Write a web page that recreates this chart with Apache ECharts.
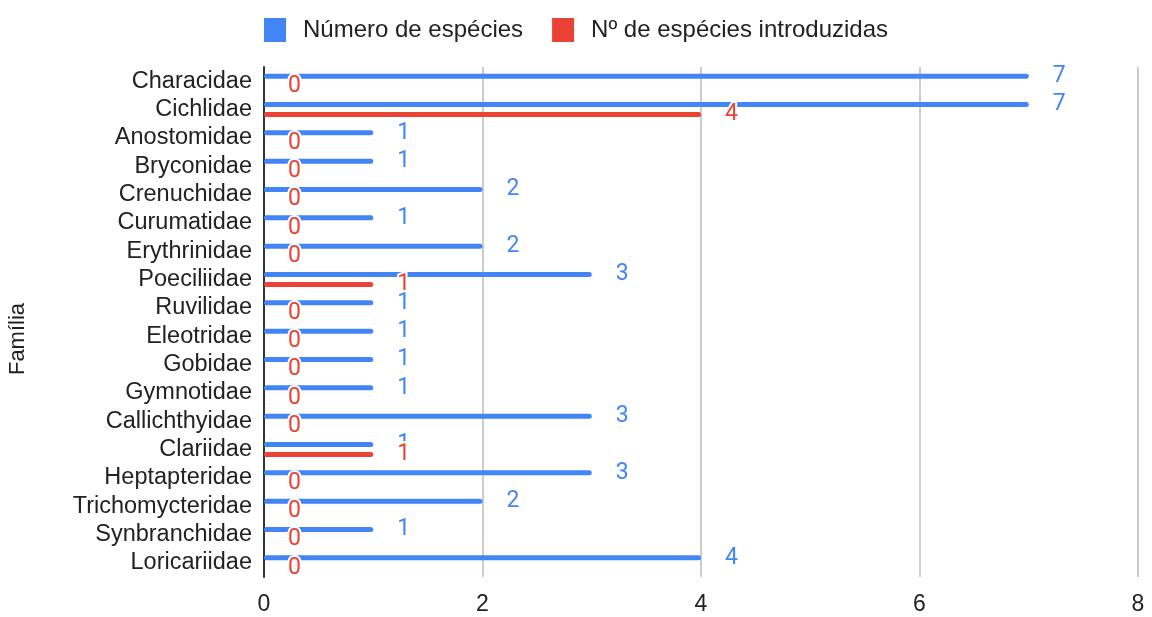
<!DOCTYPE html>
<html>
<head>
<meta charset="utf-8">
<script src="https://cdn.jsdelivr.net/npm/echarts@6/dist/echarts.min.js"></script>
<style>
  html, body { margin: 0; padding: 0; background: #fff; }
  #chart { width: 1152px; height: 617px; }
</style>
</head>
<body>
<div id="chart"></div>
<script>
// Famílias de peixes (de cima para baixo)
const familias = [
  'Characidae', 'Cichlidae', 'Anostomidae', 'Bryconidae', 'Crenuchidae',
  'Curumatidae', 'Erythrinidae', 'Poeciliidae', 'Ruvilidae', 'Eleotridae',
  'Gobidae', 'Gymnotidae', 'Callichthyidae', 'Clariidae', 'Heptapteridae',
  'Trichomycteridae', 'Synbranchidae', 'Loricariidae'
];
const numeroEspecies = [7, 7, 1, 1, 2, 1, 2, 3, 1, 1, 1, 1, 3, 1, 3, 2, 1, 4];
const especiesIntroduzidas = [0, 4, 0, 0, 0, 0, 0, 1, 0, 0, 0, 0, 0, 1, 0, 0, 0, 0];
const nomesSeries = ['Número de espécies', 'Nº de espécies introduzidas'];
const tituloEixoY = 'Família';
const eixoX = { min: 0, max: 8, interval: 2 };

const AZUL = '#4285F4';
const VERMELHO = '#EA4335';
const fonteNumeros = 'Roboto, sans-serif';
const fonteTexto = '"Liberation Sans", Arial, sans-serif';

function rotulo(cor) {
  return {
    show: true,
    position: 'right',
    distance: 24,
    color: cor,
    fontSize: 23,
    fontFamily: fonteNumeros,
    textBorderColor: '#fff',
    textBorderWidth: 4
  };
}

const chart = echarts.init(document.getElementById('chart'), null, { renderer: 'canvas' });
chart.setOption({
  animation: false,
  backgroundColor: '#fff',
  legend: {
    top: 13,
    left: 'center',
    itemWidth: 22,
    itemHeight: 24,
    itemGap: 29,
    icon: 'rect',
    textStyle: { fontSize: 24, color: '#222', fontFamily: fonteTexto, padding: [0, 0, 0, 12] },
    data: nomesSeries
  },
  graphic: [{
    type: 'text',
    x: 18,
    y: 339,
    rotation: Math.PI / 2,
    style: {
      text: tituloEixoY,
      fill: '#222',
      font: '22px "Liberation Sans", Arial, sans-serif',
      align: 'center',
      verticalAlign: 'middle'
    }
  }],
  grid: { left: 264, right: 14, top: 67, bottom: 40, containLabel: false },
  xAxis: {
    type: 'value',
    min: eixoX.min,
    max: eixoX.max,
    interval: eixoX.interval,
    axisLine: { show: false },
    axisTick: { show: false },
    splitLine: { show: true, lineStyle: { color: '#cccccc', width: 2 } },
    axisLabel: { fontSize: 23, color: '#222', fontFamily: fonteTexto, margin: 16 }
  },
  yAxis: {
    type: 'category',
    data: familias,
    inverse: true,
    axisLine: { show: true, lineStyle: { color: '#333', width: 2 } },
    axisTick: { show: false },
    axisLabel: { interval: 0, fontSize: 23.5, color: '#222', fontFamily: fonteTexto, margin: 12 }
  },
  series: [
    {
      name: nomesSeries[0],
      type: 'bar',
      data: numeroEspecies,
      barWidth: 5,
      barGap: '100%',
      itemStyle: { color: AZUL, borderRadius: 3 },
      label: rotulo(AZUL),
      z: 2
    },
    {
      name: nomesSeries[1],
      type: 'bar',
      data: especiesIntroduzidas,
      barWidth: 5,
      itemStyle: { color: VERMELHO, borderRadius: 3 },
      label: rotulo(VERMELHO),
      z: 3
    }
  ]
});
</script>
</body>
</html>
